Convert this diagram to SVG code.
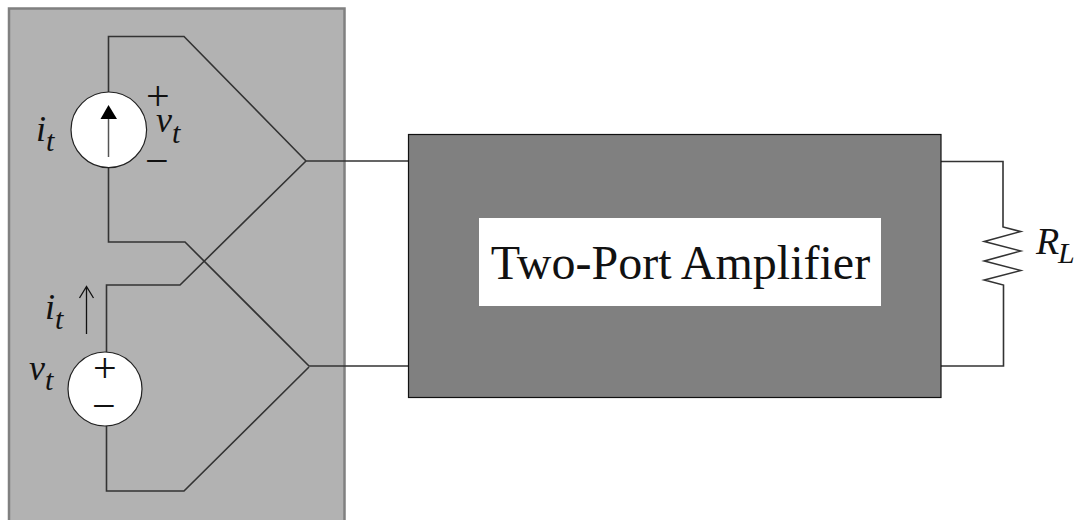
<svg xmlns="http://www.w3.org/2000/svg" width="1080" height="520" viewBox="0 0 1080 520">
<defs>
<style>
.w{fill:none;stroke:#333;stroke-width:1.6;stroke-linejoin:miter}
.s{fill:#fff;stroke:#222;stroke-width:1.2}
text{font-family:"Liberation Serif","Times New Roman",serif;fill:#111}
.v{font-style:italic;font-size:36px}
.b{font-style:italic;font-size:30px}
.o{font-size:42px}
</style>
</defs>
<rect width="1080" height="520" fill="#fff"/>
<g id="enclosure"><rect x="9" y="8.500" width="335.500" height="520" fill="#b2b2b2" stroke="#808080" stroke-width="2.500"/></g>
<g id="connectors">
<path class="w" d="M108.500,92V36.500H184L306,161H408"/>
<path class="w" d="M108.500,167V242H185L309,366H408"/>
<path class="w" d="M306,161L180,285H106.500V352"/>
<path class="w" d="M309,367L184,491H106.500V426"/>
<path class="w" d="M941,161.500H1003V227L1020.700,231.500L984.300,241.500L1020.700,251L984.300,261L1020.700,270.500L984.300,280L1003.500,285V366H941"/>
<path d="M86.500,334V287M79.500,298L86.500,286.500L93.500,298" fill="none" stroke="#111" stroke-width="1.300"/>
</g>
<g id="current-source">
<circle class="s" cx="108.800" cy="129.800" r="37.800"/>
<path d="M108.500,157V115" stroke="#555" stroke-width="1.500"/>
<path d="M100.500,119L108.500,105L117,119Z" fill="#000"/>
<text class="v" x="36" y="141">i</text><text class="b" x="46" y="151">t</text>
<text class="o" x="146" y="110">+</text>
<text class="v" x="156" y="132">v</text><text class="b" x="172" y="143">t</text>
<text class="o" x="145" y="175">−</text>
</g>
<g id="voltage-source">
<circle class="s" cx="105" cy="389" r="37"/>
<text class="o" x="93" y="382">+</text>
<text class="o" x="92" y="420">−</text>
<text class="v" x="45" y="319">i</text><text class="b" x="55" y="329">t</text>
<text class="v" x="29" y="380">v</text><text class="b" x="45" y="390">t</text>
</g>
<g id="amplifier">
<rect x="408.500" y="134.500" width="532.500" height="263" fill="#808080" stroke="#111" stroke-width="1.200"/>
<rect x="479" y="218" width="402" height="88" fill="#fff"/>
<text x="680.500" y="279" text-anchor="middle" font-size="48">Two-Port Amplifier</text>
</g>
<g id="load">
<text class="v" x="1036" y="254" font-size="38" style="font-size:38px">R</text><text class="b" x="1058" y="263">L</text>
</g>
</svg>
